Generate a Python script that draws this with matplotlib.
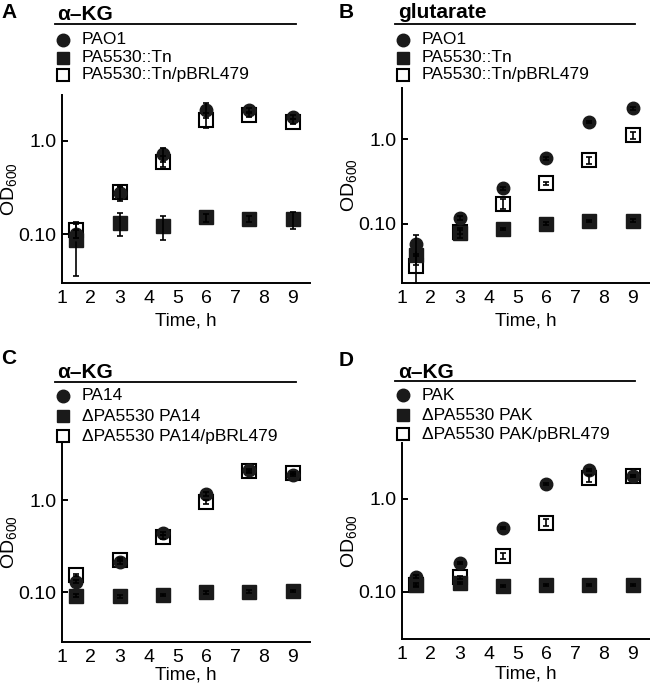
import matplotlib
matplotlib.use("Agg")
from matplotlib import pyplot as plt
from matplotlib.lines import Line2D

plt.rcParams['font.family'] = ['Liberation Sans', 'DejaVu Sans']
plt.rcParams['mathtext.default'] = 'regular'

times = [1.5, 3, 4.5, 6, 7.5, 9]
x_ticks = [1, 2, 3, 4, 5, 6, 7, 8, 9]
y_ticks = [0.1, 1.0]
y_tick_labels = ["0.10", "1.0"]

# panel A: alpha-KG, PAO1 background
a_labels = ["PAO1", "PA5530::Tn", "PA5530::Tn/pBRL479"]
a_wt = [0.10, 0.276, 0.72, 2.15, 2.15, 1.80]
a_wt_sd = [0.01, 0.05, 0.12, 0.40, 0.10, 0.10]
a_mut = [0.086, 0.132, 0.122, 0.151, 0.145, 0.145]
a_mut_sd = [0.05, 0.037, 0.035, 0.015, 0.01, 0.03]
a_comp = [0.11, 0.28, 0.60, 1.68, 1.90, 1.61]
a_comp_sd = [0.02, 0.04, 0.08, 0.30, 0.10, 0.10]

# panel B: glutarate, PAO1 background
b_labels = ["PAO1", "PA5530::Tn", "PA5530::Tn/pBRL479"]
b_wt = [0.058, 0.117, 0.263, 0.593, 1.60, 2.30]
b_wt_sd = [0.016, 0.005, 0.01, 0.02, 0.05, 0.10]
b_mut = [0.043, 0.078, 0.087, 0.100, 0.108, 0.109]
b_mut_sd = [0.01, 0.01, 0.003, 0.004, 0.004, 0.004]
b_comp = [0.0315, 0.080, 0.172, 0.300, 0.566, 1.11]
b_comp_sd = [0.012, 0.005, 0.023, 0.015, 0.055, 0.10]

# panel C: alpha-KG, PA14 background
c_labels = ["PA14", "\u0394PA5530 PA14", "\u0394PA5530 PA14/pBRL479"]
c_wt = [0.129, 0.214, 0.434, 1.16, 2.12, 1.87]
c_wt_sd = [0.005, 0.01, 0.02, 0.05, 0.08, 0.06]
c_mut = [0.091, 0.090, 0.093, 0.099, 0.101, 0.103]
c_mut_sd = [0.003, 0.003, 0.003, 0.003, 0.003, 0.003]
c_comp = [0.153, 0.225, 0.40, 0.96, 2.05, 1.98]
c_comp_sd = [0.005, 0.01, 0.02, 0.05, 0.08, 0.06]

# panel D: alpha-KG, PAK background
d_labels = ["PAK", "\u0394PA5530 PAK", "\u0394PA5530 PAK/pBRL479"]
d_wt = [0.146, 0.203, 0.484, 1.45, 2.05, 1.77]
d_wt_sd = [0.005, 0.005, 0.01, 0.03, 0.05, 0.05]
d_mut = [0.119, 0.124, 0.117, 0.119, 0.119, 0.119]
d_mut_sd = [0.003, 0.003, 0.003, 0.003, 0.003, 0.003]
d_comp = [0.119, 0.144, 0.244, 0.557, 1.67, 1.77]
d_comp_sd = [0.005, 0.005, 0.02, 0.05, 0.15, 0.05]

W, H = 650, 687


def px(x, y):
    return x / W, 1 - y / H


def panel(fig, rect, letter, letter_xy, title, title_xy, line_y, line_x,
          legend_x, legend_ys, labels, series, ylim, xlabel_pad=4):
    left, top, right, bottom = rect
    x0, y0 = px(left, bottom)
    x1, y1 = px(right, top)
    ax = fig.add_axes([x0, y0, x1 - x0, y1 - y0])
    wt, wt_sd, mut, mut_sd, comp, comp_sd = series

    ax.plot(times, comp, 's', ms=9.5, mfc='white', mec='black', mew=1.5, zorder=3)
    ax.errorbar(times, comp, yerr=comp_sd, fmt='none', ecolor='black',
                elinewidth=1.2, capsize=2.5, capthick=1.2, zorder=6)
    ax.plot(times, mut, 's', ms=9.5, color='#1a1a1a', zorder=4)
    ax.errorbar(times, mut, yerr=mut_sd, fmt='none', ecolor='black',
                elinewidth=1.2, capsize=2.5, capthick=1.2, zorder=4)
    ax.plot(times, wt, 'o', ms=9, color='#1a1a1a', zorder=5)
    ax.errorbar(times, wt, yerr=wt_sd, fmt='none', ecolor='black',
                elinewidth=1.2, capsize=2.5, capthick=1.2, zorder=5)

    ax.set_yscale('log')
    ax.set_ylim(*ylim)
    ax.set_xlim(1, 9.6)
    ax.set_xticks(x_ticks)
    ax.set_yticks(y_ticks)
    ax.set_yticklabels(y_tick_labels)
    ax.minorticks_off()
    ax.tick_params(labelsize=14, width=1.4, direction='in')
    ax.tick_params(axis='y', length=4, pad=4)
    ax.tick_params(axis='x', length=0, pad=5)
    for s in ['top', 'right']:
        ax.spines[s].set_visible(False)
    for s in ['left', 'bottom']:
        ax.spines[s].set_linewidth(1.4)
    ax.set_xlabel("Time, h", fontsize=13.5, labelpad=xlabel_pad)
    ax.set_ylabel("OD$_{600}$", fontsize=14)
    ax.yaxis.set_label_coords(-0.175, 0.5)
    ax.patch.set_alpha(0)

    fig.text(*px(*letter_xy), letter, fontsize=15, fontweight='bold',
             ha='left', va='center')
    fig.text(*px(*title_xy), title, fontsize=15, fontweight='bold',
             ha='left', va='center')
    fig.add_artist(Line2D([line_x[0] / W, line_x[1] / W],
                          [1 - line_y / H, 1 - line_y / H],
                          transform=fig.transFigure, color='black', lw=1.3))
    styles = [dict(marker='o', color='#1a1a1a'),
              dict(marker='s', color='#1a1a1a'),
              dict(marker='s', mfc='white', mec='black', mew=1.5)]
    for lab, ly, st in zip(labels, legend_ys, styles):
        mx, my = px(legend_x, ly)
        fig.add_artist(Line2D([mx], [my], transform=fig.transFigure,
                              ls='none', ms=9, **st))
        fig.text(*px(legend_x + 19, ly), lab, fontsize=12.5,
                 ha='left', va='center')
    return ax


fig = plt.figure(figsize=(6.5, 6.87), dpi=100)

panel(fig, (62, 95, 310, 283), "A", (1, 12), "\u03b1\u2013KG", (57, 14), 24,
      (55, 296), 63, (40, 58, 75), a_labels,
      (a_wt, a_wt_sd, a_mut, a_mut_sd, a_comp, a_comp_sd), (0.03, 3.1))
panel(fig, (402, 88, 650, 283), "B", (339, 12), "glutarate", (398, 12), 24,
      (395, 635), 403, (40, 58, 75), b_labels,
      (b_wt, b_wt_sd, b_mut, b_mut_sd, b_comp, b_comp_sd), (0.02, 4.0))
panel(fig, (62, 443, 310, 642), "C", (1, 358), "\u03b1\u2013KG", (57, 372), 382,
      (55, 296), 63, (396, 416, 436), c_labels,
      (c_wt, c_wt_sd, c_mut, c_mut_sd, c_comp, c_comp_sd), (0.0286, 4.17),
      xlabel_pad=0.5)
panel(fig, (402, 443, 650, 639), "D", (339, 360), "\u03b1\u2013KG", (398, 372), 381,
      (395, 635), 403, (395, 415, 434), d_labels,
      (d_wt, d_wt_sd, d_mut, d_mut_sd, d_comp, d_comp_sd), (0.0312, 4.0),
      xlabel_pad=1.5)

fig.savefig("out.png", dpi=100)
